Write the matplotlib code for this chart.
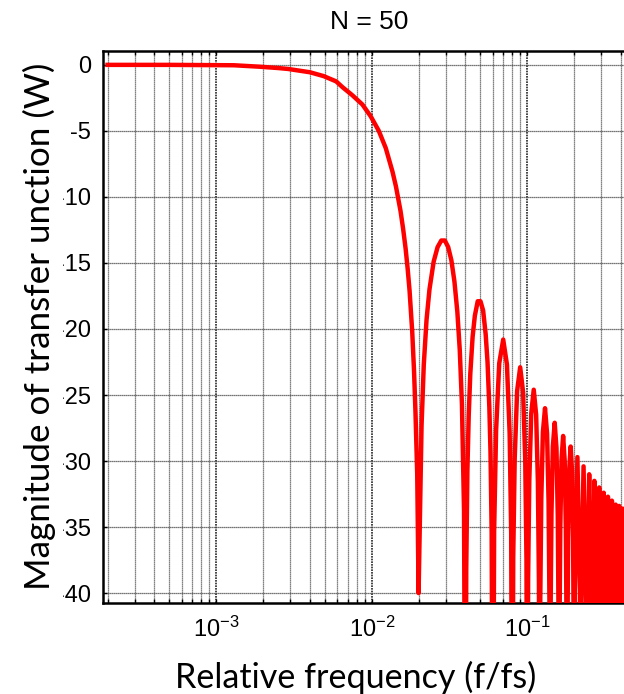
import matplotlib
matplotlib.use("Agg")
import matplotlib.pyplot as plt
from matplotlib.ticker import LogLocator, FixedLocator, NullFormatter
from matplotlib.transforms import Bbox

# ---- data (relative frequency, magnitude in dB) ----
f_pass = [2.0e-4, 5.0e-4, 1.0e-3, 1.3e-3, 1.9e-3, 2.5e-3, 2.9e-3, 3.4e-3, 4.0e-3,
          4.9e-3, 5.9e-3, 6.5e-3, 7.5e-3, 8.7e-3, 9.85e-3, 1.11e-2, 1.23e-2,
          1.36e-2, 1.43e-2, 1.53e-2, 1.59e-2, 1.65e-2, 1.70e-2, 1.75e-2, 1.82e-2,
          1.87e-2, 1.91e-2, 1.96e-2, 2.0e-2]
db_pass = [0.0, 0.0, -0.02, -0.03, -0.14, -0.24, -0.31, -0.43, -0.56,
           -0.85, -1.25, -1.7, -2.3, -3.0, -3.9, -5.0, -6.3,
           -8.1, -9.2, -11.05, -12.4, -13.9, -15.4, -17.1, -20.2,
           -23.2, -26.3, -31.0, -40.0]

f_lobe1 = [0.0204, 0.0209, 0.0216, 0.0225, 0.0235, 0.0250, 0.0265, 0.0280, 0.0295,
           0.0310, 0.0325, 0.0340, 0.0355, 0.0368, 0.0380, 0.0392, 0.0400]
db_lobe1 = [-34.2, -27.3, -22.7, -19.3, -17.0, -14.9, -13.8, -13.3, -13.3,
            -13.8, -14.8, -16.4, -18.7, -21.6, -25.7, -33.8, -60.0]

f_lobe2 = [0.0405, 0.0412, 0.0420, 0.0430, 0.0445, 0.0460, 0.0480, 0.0500, 0.0520,
           0.0540, 0.0555, 0.0570, 0.0580, 0.0590, 0.0600]
db_lobe2 = [-38.2, -30.7, -26.6, -23.4, -20.6, -19.0, -17.9, -17.9, -18.6,
            -20.4, -22.5, -25.9, -29.3, -35.4, -60.0]

f_lobes_mid = [0.0612, 0.0630, 0.0660, 0.0700, 0.0740, 0.0770, 0.0788, 0.0800,
               0.0812, 0.0830, 0.0860, 0.0900, 0.0940, 0.0970, 0.0988, 0.1000,
               0.1012, 0.1030, 0.1060, 0.1100, 0.1140, 0.1170, 0.1188, 0.1200,
               0.1212, 0.1230, 0.1260, 0.1300, 0.1340, 0.1370, 0.1388, 0.1400,
               0.1412, 0.1430, 0.1460, 0.1500, 0.1540, 0.1570, 0.1588, 0.1600,
               0.1612, 0.1630, 0.1660, 0.1700, 0.1740, 0.1770, 0.1788, 0.1800,
               0.1812, 0.1830, 0.1860, 0.1900, 0.1940, 0.1970, 0.1988, 0.2000]
db_lobes_mid = [-35.3, -27.7, -22.6, -20.8, -22.7, -27.9, -35.5, -60.0,
                -37.3, -29.8, -24.7, -22.9, -24.8, -29.9, -37.5, -60.0,
                -39.0, -31.5, -26.4, -24.6, -26.5, -31.6, -39.2, -60.0,
                -40.4, -32.9, -27.8, -26.0, -27.9, -33.0, -40.6, -60.0,
                -41.5, -34.0, -28.9, -27.1, -29.0, -34.1, -41.7, -60.0,
                -42.5, -35.0, -29.9, -28.1, -30.0, -35.1, -42.7, -60.0,
                -43.3, -35.8, -30.7, -28.9, -30.8, -35.9, -43.5, -60.0]

f_lobes_high = [0.202, 0.210, 0.218, 0.220, 0.222, 0.230, 0.238, 0.240,
                0.242, 0.250, 0.258, 0.260, 0.262, 0.270, 0.278, 0.280,
                0.282, 0.290, 0.298, 0.300, 0.302, 0.310, 0.318, 0.320,
                0.322, 0.330, 0.338, 0.340, 0.342, 0.350, 0.358, 0.360,
                0.362, 0.370, 0.378, 0.380, 0.382, 0.390, 0.398, 0.400,
                0.402, 0.410, 0.418, 0.420, 0.422, 0.430, 0.438, 0.440,
                0.442, 0.450, 0.458, 0.460, 0.462, 0.470, 0.478, 0.480,
                0.482, 0.490, 0.498, 0.500]
db_lobes_high = [-39.9, -29.7, -40.0, -60.0, -40.6, -30.4, -40.7, -60.0,
                 -41.2, -31.0, -41.3, -60.0, -41.7, -31.5, -41.8, -60.0,
                 -42.2, -32.0, -42.3, -60.0, -42.6, -32.4, -42.7, -60.0,
                 -42.9, -32.7, -43.0, -60.0, -43.2, -33.0, -43.3, -60.0,
                 -43.5, -33.3, -43.5, -60.0, -43.6, -33.4, -43.7, -60.0,
                 -43.8, -33.6, -43.9, -60.0, -44.0, -33.8, -44.0, -60.0,
                 -44.1, -33.9, -44.1, -60.0, -44.1, -33.9, -44.2, -60.0,
                 -44.2, -34.0, -44.2, -60.0]

y_ticks = [0, -5, -10, -15, -20, -25, -30, -35, -40]
y_tick_labels = ["0", "-5", "-10", "-15", "-20", "-25", "-30", "-35", "-40"]
x_major = [1e-3, 1e-2, 1e-1]
x_tick_labels = [r"$\mathregular{10^{-3}}$", r"$\mathregular{10^{-2}}$", r"$\mathregular{10^{-1}}$"]

freq = f_pass + f_lobe1 + f_lobe2 + f_lobes_mid + f_lobes_high
mag = db_pass + db_lobe1 + db_lobe2 + db_lobes_mid + db_lobes_high

# ---- figure ----
W, H = 624, 694
fig = plt.figure(figsize=(W / 100, H / 100), dpi=100)
ax = fig.add_axes([103 / W, 91 / H, 533 / W, 552 / H])

ax.plot(freq, mag, color="#ff0000", lw=3.2, solid_joinstyle="round", zorder=3)

ax.set_xscale("log")
ax.set_xlim(1.87e-4, 0.5)
ax.set_ylim(-40.75, 1.05)

ax.xaxis.set_major_locator(FixedLocator(x_major))
ax.set_xticklabels(x_tick_labels)
ax.xaxis.set_minor_locator(LogLocator(base=10, subs=range(2, 10), numticks=20))
ax.xaxis.set_minor_formatter(NullFormatter())
ax.set_yticks(y_ticks)
ax.set_yticklabels(y_tick_labels)

ax.grid(which="major", axis="x", color="0.15", linestyle=(0, (1, 0.6)), lw=1.2)
ax.grid(which="minor", axis="x", color="0.35", linestyle=(0, (1, 0.6)), lw=0.9)
ax.grid(which="major", axis="y", color="0.28", linestyle=(0, (1, 0.6)), lw=0.9)

for s in ["left", "top", "bottom"]:
    ax.spines[s].set_linewidth(1.8)
    ax.spines[s].set_color("black")
ax.spines["right"].set_visible(False)

ax.tick_params(axis="x", which="both", direction="in", top=True, bottom=True,
               length=3, width=1, color="black", pad=10)
ax.tick_params(axis="y", which="both", direction="in", left=True, right=False,
               length=3, width=1, color="black", pad=8.5)
for lbl in ax.get_xticklabels() + ax.get_yticklabels():
    lbl.set_fontfamily("Liberation Sans")
    lbl.set_fontsize(17)

# the left edge of the tick-label column is cut, as in the reference
clip = Bbox([[63, 0], [W + 50, H]])
for lbl in ax.get_yticklabels():
    lbl.set_clip_box(clip)
    lbl.set_clip_on(True)

ax.set_title("N = 50", fontfamily="Liberation Sans", fontsize=19, pad=16)
ax.set_xlabel("Relative frequency (f/fs)", fontfamily="Lato", fontsize=24.6)
ax.xaxis.label.set_va("baseline")
ax.xaxis.set_label_coords((356 - 103) / 533, -(688 - 603) / 552)
ax.set_ylabel("Magnitude of transfer unction (W)", fontfamily="Lato", fontsize=25.2)
ax.yaxis.set_label_coords((56 - 103) / 533, 0.5 + (327 - 326) / 552)

fig.savefig("out.png", dpi=100)
